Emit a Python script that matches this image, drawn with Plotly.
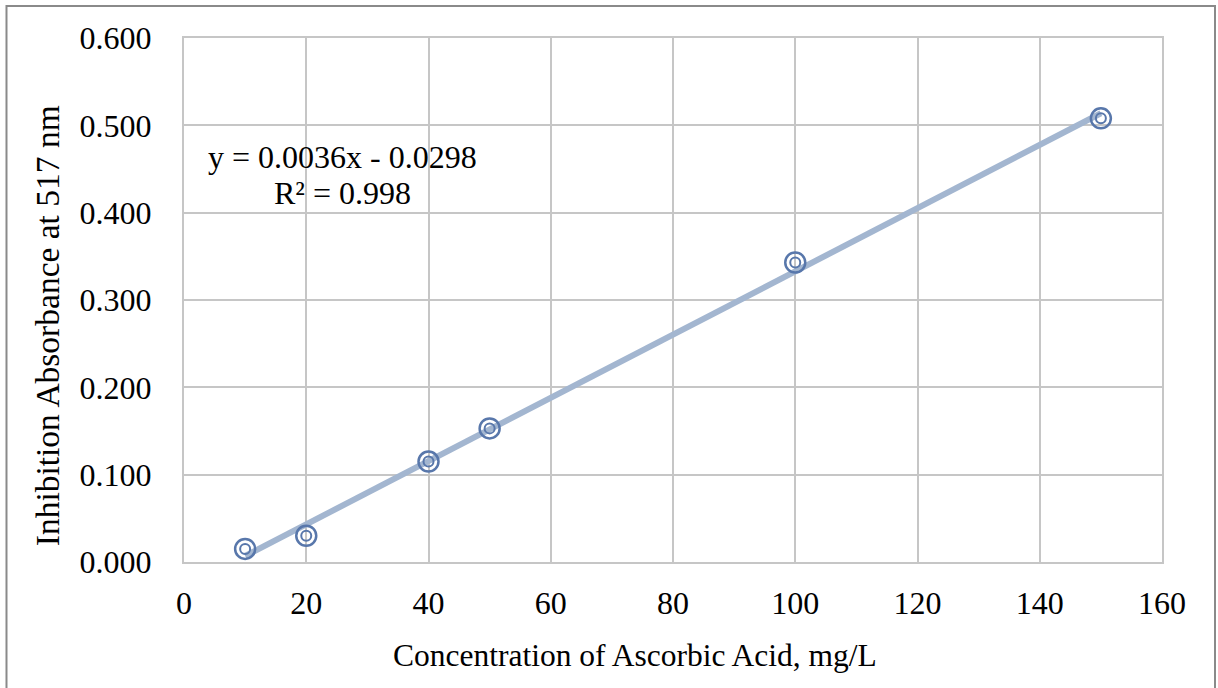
import numpy as np
import plotly.graph_objects as go

concentration = [10, 20, 40, 50, 100, 150]
absorbance = [0.015, 0.030, 0.115, 0.153, 0.343, 0.508]
x_ticks = [0, 20, 40, 60, 80, 100, 120, 140, 160]
y_ticks = [0.0, 0.1, 0.2, 0.3, 0.4, 0.5, 0.6]
equation_lines = ["y = 0.0036x - 0.0298", "R² = 0.998"]
x_title = "Concentration of Ascorbic Acid, mg/L"
y_title = "Inhibition Absorbance at 517 nm"

slope, intercept = np.polyfit(concentration, absorbance, 1)
fit_x = [min(concentration), max(concentration)]
fit_y = [slope * v + intercept for v in fit_x]

FONT = "Liberation Serif, Times New Roman, serif"
GRID = "#c6c6c6"

fig = go.Figure()
fig.add_trace(go.Scatter(x=fit_x, y=fit_y, mode="lines",
                         line=dict(color="#a3b6d0", width=6), showlegend=False))
fig.add_trace(go.Scatter(x=concentration, y=absorbance, mode="markers",
                         marker=dict(symbol="circle-open", size=20, color="#5877ab",
                                     line=dict(width=2.5, color="#5877ab")),
                         showlegend=False))
fig.add_trace(go.Scatter(x=concentration, y=absorbance, mode="markers",
                         marker=dict(symbol="circle-open", size=10, color="#5877ab",
                                     line=dict(width=2, color="#5877ab")),
                         showlegend=False))

for txt, yy in zip(equation_lines, [0.4638, 0.4225]):
    fig.add_annotation(x=26.0, y=yy, xref="x", yref="y", text=txt,
                       showarrow=False, xanchor="center", yanchor="middle",
                       font=dict(family=FONT, size=32, color="black"))

fig.add_annotation(x=-0.140, y=0.450, xref="paper", yref="paper", text=y_title,
                   textangle=-90, showarrow=False, xanchor="center", yanchor="middle",
                   font=dict(family=FONT, size=33.5, color="black"))
fig.add_annotation(x=0.461, y=-0.178, xref="paper", yref="paper", text=x_title,
                   showarrow=False, xanchor="center", yanchor="middle",
                   font=dict(family=FONT, size=31.5, color="black"))

fig.add_shape(type="rect", xref="paper", yref="paper",
              x0=-0.1815, x1=1.0542, y0=-0.27, y1=1.0611,
              line=dict(color="#8a8a8a", width=2), fillcolor="rgba(0,0,0,0)")

fig.update_layout(
    width=1218, height=688,
    margin=dict(l=184, r=56, t=38, b=126),
    paper_bgcolor="white", plot_bgcolor="white",
    font=dict(family=FONT, size=32, color="black"),
    xaxis=dict(range=[0, 160], tickvals=x_ticks, showgrid=True, gridcolor=GRID, gridwidth=2,
               showline=True, mirror=True, linecolor=GRID, linewidth=2, zeroline=False,
               ticks="", ticklabelstandoff=12),
    yaxis=dict(range=[0, 0.6], tickvals=y_ticks, tickformat=".3f", showgrid=True,
               gridcolor=GRID, gridwidth=2, showline=True, mirror=True, linecolor=GRID,
               linewidth=2, zeroline=False, ticks="", ticklabelstandoff=24),
)

fig.write_html("out.html")
